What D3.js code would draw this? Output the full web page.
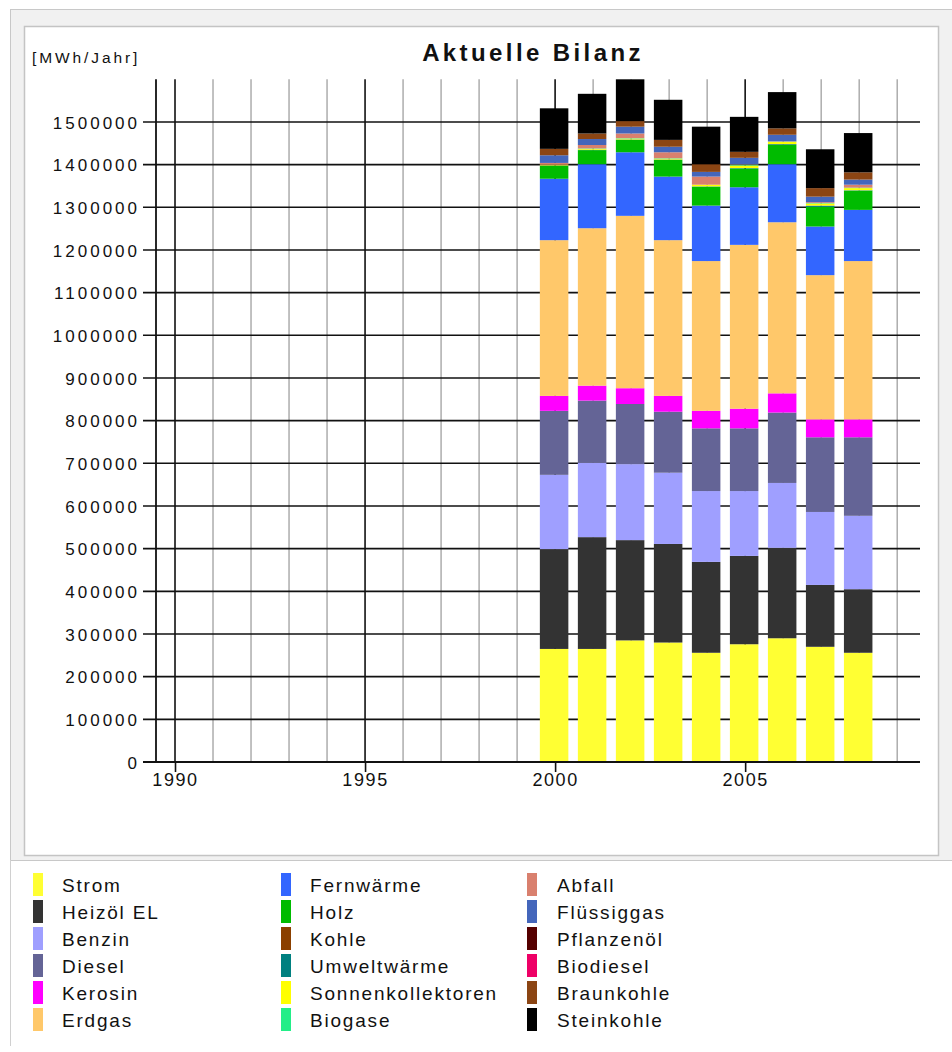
<!DOCTYPE html>
<html><head><meta charset="utf-8">
<script src="https://cdn.jsdelivr.net/npm/d3@7"></script>
<style>
html,body{margin:0;padding:0;background:#fff;}
svg{display:block;}
text{font-family:"Liberation Sans",Arial,sans-serif;fill:#111;}
</style></head>
<body>
<svg id="chart" width="952" height="1052"></svg>
<script>
const years = [2000, 2001, 2002, 2003, 2004, 2005, 2006, 2007, 2008];
const seriesNames = ["Strom","Heizöl EL","Benzin","Diesel","Kerosin","Erdgas","Fernwärme","Holz","Kohle","Umweltwärme","Sonnenkollektoren","Biogase","Abfall","Flüssiggas","Pflanzenöl","Biodiesel","Braunkohle","Steinkohle"];
const seriesColors = ["#ffff33","#333333","#9f9fff","#646496","#ff00ff","#ffc86a","#3366ff","#00bb00","#8b4000","#008080","#ffff00","#22ee88","#d9806e","#4466bb","#550000","#ee0066","#8b4513","#000000"];
// values per series, one per year (MWh/Jahr)
const strom      = [265000,265000,285000,280000,256000,276000,290000,270000,256000];
const heizoel    = [234000,262000,235000,231000,213000,207000,212000,145000,149000];
const benzin     = [174000,174000,178000,167000,166000,152000,152000,171000,172000];
const diesel     = [150000,146000,141000,143000,147000,147000,165000,175000,184000];
const kerosin    = [ 35000, 35000, 37000, 37000, 41000, 46000, 45000, 42000, 42000];
const erdgas     = [365000,369000,404000,365000,351000,384000,401000,338000,371000];
const fernwaerme = [144000,150000,149000,149000,130000,135000,136000,114000,120000];
const holz       = [ 30000, 33000, 29000, 39000, 44000, 44000, 45000, 46000, 45000];
const kohle      = [     0,     0,     0,     0,     0,     0,     0,     0,     0];
const umwelt     = [  1000,  1000,  1000,  1000,  1000,  1000,  2000,  3000,  1000];
const sonnen     = [  2000,  2000,  2000,  2000,  4000,  6000,  5000,  5000,  5000];
const biogase    = [     0,  1000,  1000,  1000,     0,  2000,  1000,  1000,  1000];
const abfall     = [  4000,  8000, 11000, 14000, 19000,  1000,  1000,  2000,  7000];
const fluessig   = [ 18000, 14000, 16000, 13000, 11000, 15000, 15000, 13000, 12000];
const pflanzen   = [     0,     0,     0,     0,     0,     0,     0,     0,     0];
const biodiesel  = [     0,     0,     0,     0,     0,     0,     0,     0,     0];
const braunkohle = [ 15000, 13000, 13000, 16000, 18000, 14000, 15000, 20000, 17000];
const steinkohle = [ 95000, 93000, 98000, 94000, 88000, 82000, 85000, 91000, 92000];
const seriesValues = [strom,heizoel,benzin,diesel,kerosin,erdgas,fernwaerme,holz,kohle,umwelt,sonnen,biogase,abfall,fluessig,pflanzen,biodiesel,braunkohle,steinkohle];
const yTicks = [0,100000,200000,300000,400000,500000,600000,700000,800000,900000,1000000,1100000,1200000,1300000,1400000,1500000];
const xLabelYears = [1990, 1995, 2000, 2005];
const gridYears = d3.range(1990, 2010);

const table = years.map((yr, i) => {
  const row = {year: yr};
  seriesNames.forEach((n, k) => row[n] = seriesValues[k][i]);
  return row;
});

const svg = d3.select("#chart");

// frame
svg.append("rect").attr("x",10.5).attr("y",9.5).attr("width",960).attr("height",851)
  .attr("fill","#f1f1f1").attr("stroke","#c8c8c8");
svg.append("line").attr("x1",10.5).attr("x2",10.5).attr("y1",860).attr("y2",1046).attr("stroke","#d0d0d0");
svg.append("rect").attr("x",24.5).attr("y",26.5).attr("width",914).attr("height",829)
  .attr("fill","#fff").attr("stroke","#c4c4c4").attr("stroke-width",1.5);

const x = d3.scaleLinear().domain([1989.5, 2009.6]).range([156, 920]);
const y = d3.scaleLinear().domain([0, 1600000]).range([762, 79.3]);
const color = d3.scaleOrdinal().domain(seriesNames).range(seriesColors);

// vertical grid
svg.append("g").selectAll("line").data(gridYears).join("line")
  .attr("x1", d => x(d)).attr("x2", d => x(d))
  .attr("y1", y(1600000)).attr("y2", y(0))
  .attr("stroke", d => (d % 5 === 0) ? "#111" : "#a0a0a0")
  .attr("stroke-width", d => (d % 5 === 0) ? 1.6 : 1.3);
// y axis line
svg.append("line").attr("x1", x(1989.5)).attr("x2", x(1989.5))
  .attr("y1", y(1600000)).attr("y2", y(0)).attr("stroke","#111").attr("stroke-width",1.8);
// horizontal grid
svg.append("g").selectAll("line").data(yTicks).join("line")
  .attr("x1", 143).attr("x2", 920)
  .attr("y1", d => y(d)).attr("y2", d => y(d))
  .attr("stroke","#111").attr("stroke-width",1.6);

// bars
const stack = d3.stack().keys(seriesNames);
const stacked = stack(table);
const barW = 28.5;
svg.append("g").selectAll("g").data(stacked).join("g")
  .attr("fill", d => color(d.key))
  .selectAll("rect").data(d => d).join("rect")
  .attr("x", d => x(d.data.year) - 1 - barW/2)
  .attr("width", barW)
  .attr("y", d => y(d[1]))
  .attr("height", d => Math.max(0, y(d[0]) - y(d[1])));

// y axis labels
const yAxis = d3.axisLeft(y).tickValues(yTicks).tickFormat(d3.format("d")).tickSize(0).tickPadding(16);
const gy = svg.append("g").attr("transform", `translate(${x(1989.5)},0)`).call(yAxis);
gy.select(".domain").remove();
gy.selectAll("text").attr("font-family","Liberation Sans, Arial, sans-serif")
  .style("font-size","17px").style("letter-spacing","3px").attr("fill","#111").attr("dy","0.36em");

// x axis
svg.append("line").attr("x1",143).attr("x2",920).attr("y1",y(0)).attr("y2",y(0))
  .attr("stroke","#111").attr("stroke-width",2);
const xAxis = d3.axisBottom(x).tickValues(xLabelYears).tickFormat(d3.format("d")).tickSize(10).tickPadding(1);
const gx = svg.append("g").attr("transform", `translate(0,${y(0)})`).call(xAxis);
gx.select(".domain").remove();
gx.selectAll(".tick line").attr("stroke","#111").attr("stroke-width",1.6);
gx.selectAll("text").attr("font-family","Liberation Sans, Arial, sans-serif")
  .style("font-size","18px").style("letter-spacing","1.6px").attr("fill","#111");

// title & unit
svg.append("text").attr("x", 533).attr("y", 61).attr("text-anchor","middle")
  .style("font-size","24px").style("font-weight","bold").style("letter-spacing","3.4px")
  .text("Aktuelle Bilanz");
svg.append("text").attr("x", 32).attr("y", 63)
  .style("font-size","15.5px").style("letter-spacing","2.9px")
  .text("[MWh/Jahr]");

// legend
const colSwatchX = [33, 281, 527];
const colTextX = [62, 310, 557];
const rowY = [885, 912, 939, 966, 993, 1020];
const leg = svg.append("g").selectAll("g").data(seriesNames).join("g")
  .attr("transform", (d, i) => `translate(0,${rowY[i % 6]})`);
leg.append("rect").attr("x", (d, i) => colSwatchX[Math.floor(i / 6)]).attr("y", -12)
  .attr("width", 10).attr("height", 23).attr("fill", d => color(d));
leg.append("text").attr("x", (d, i) => colTextX[Math.floor(i / 6)]).attr("y", 7)
  .style("font-size","19px").style("letter-spacing","1.8px").text(d => d);
</script>
</body></html>
